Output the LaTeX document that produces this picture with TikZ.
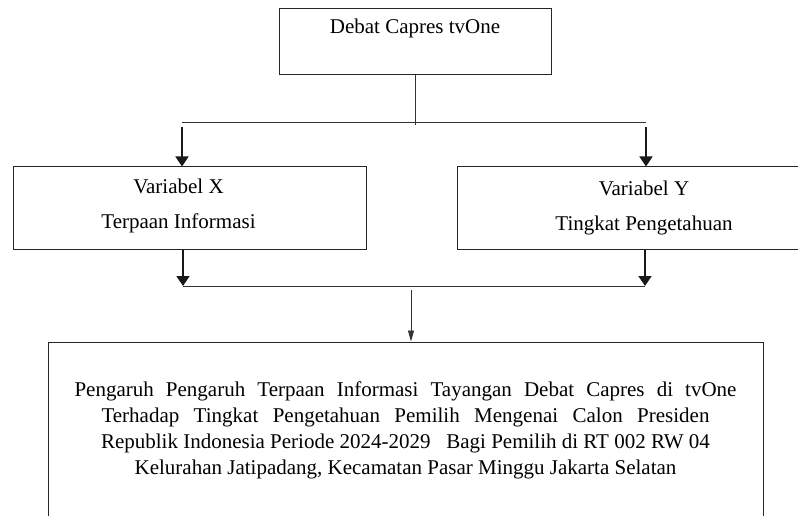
\documentclass[tikz,border=0pt]{standalone}
\usepackage{fontspec}
\setmainfont{Liberation Serif}
\usetikzlibrary{arrows.meta}
\tikzset{
  kotak/.style={draw=black!85,line width=1pt,inner sep=0pt,align=center,font=\fontsize{21}{26}\selectfont},
  garis/.style={line width=0.9pt,black!80},
  panah/.style={line width=1.6pt,black!90,->}
}
\begin{document}
\begin{tikzpicture}[x=1pt,y=-1pt,>={Triangle[length=10pt,width=13pt]}]
            \useasboundingbox (0,0) rectangle (798,516);
            \node[kotak,minimum width=272pt,minimum height=66pt,text depth=32pt] (debat) at (415,42) {Debat Capres tvOne};
            \node[kotak,minimum width=353pt,minimum height=82pt,text depth=9pt] (varx) at (189.5,208) {Variabel X\hspace*{22pt}\\[9pt]Terpaan Informasi\hspace*{22pt}};
            \node[kotak,minimum width=374pt,minimum height=82pt,text depth=4pt] (vary) at (644,208) {Variabel Y\\[9pt]Tingkat Pengetahuan};
            \node[kotak,minimum width=715pt,minimum height=180pt,text depth=8pt] (hasil) at (405.5,432) {\makebox[662pt][s]{Pengaruh Pengaruh Terpaan Informasi Tayangan Debat Capres di tvOne}\\
              \makebox[608pt][s]{Terhadap Tingkat Pengetahuan Pemilih Mengenai Calon Presiden}\\
              Republik Indonesia Periode 2024-2029 \ \ Bagi Pemilih di RT 002 RW 04\\
              Kelurahan Jatipadang, Kecamatan Pasar Minggu Jakarta Selatan};
            \coordinate (cabangL) at (182,122);
            \coordinate (cabangR) at (646,122);
            \coordinate (gabungL) at (183,286);
            \coordinate (gabungR) at (645,286);
            \coordinate (gabungM) at (411,290);
            \draw[garis] (debat.south) -- (debat.south |- 0,125);
            \draw[garis] (cabangL) -- (cabangR);
            \draw[panah] ([yshift=-5pt]cabangL) -- (cabangL |- varx.north);
            \draw[panah] ([yshift=-5pt]cabangR) -- (cabangR |- vary.north);
            \draw[panah] (gabungL |- varx.south) -- (gabungL);
            \draw[panah] (gabungR |- vary.south) -- (gabungR);
            \draw[garis] (gabungL) -- (gabungR);
            \draw[garis,-{Triangle[length=11pt,width=6pt]}] (gabungM) -- (gabungM |- hasil.north);
        \end{tikzpicture}
\end{document}
